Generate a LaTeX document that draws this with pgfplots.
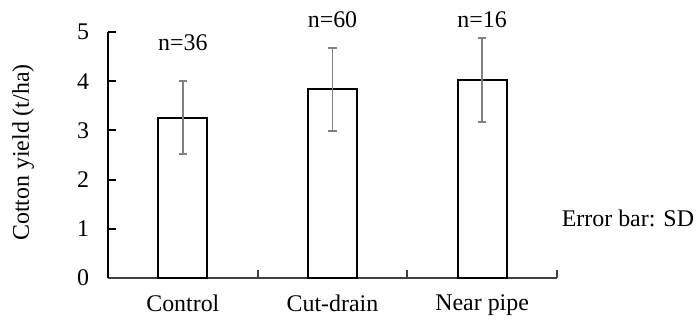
\documentclass[border=0pt]{standalone}
\usepackage{fontspec}
\setmainfont{Liberation Serif}
\usepackage{pgfplots}
\pgfplotsset{compat=1.18}
\begin{document}
\begin{tikzpicture}[font=\fontsize{12}{14}\selectfont]
\path[use as bounding box] (0,0) rectangle (350bp,160bp);
\begin{axis}[
  at={(54bp,21bp)}, anchor=south west,
  width=224.5bp, height=123bp, scale only axis,
  xmin=-0.5, xmax=2.5, ymin=0, ymax=5,
  axis x line*=bottom, axis y line*=left,
  axis line style={-, line width=1bp},
  x axis line style={black!75},
  tick align=inside,
  ytick={0,1,2,3,4,5},
  major tick length=4bp,
  tick style={black, line width=1bp},
  xtick={-0.5,0.5,1.5,2.5},
  xticklabels={},
  x tick style={black!75},
  extra x ticks={0,1,2},
  extra x tick labels={Control,Cut-drain,Near pipe},
  extra x tick style={major tick length=0pt},
  xticklabel style={yshift=-5bp},
  yticklabel style={xshift=-6bp},
  /pgf/number format/assume math mode=true,
  ylabel={Cotton yield (t/ha)},
  ylabel style={at={(axis description cs:-0.189,0.51)}, rotate=0, anchor=center},
  clip=false,
]
\addplot[ybar, bar width=0.327, fill=white, draw=black, line width=1bp,
  error bars/.cd, y dir=both, y explicit,
  error bar style={gray, line width=0.9bp},
  error mark options={rotate=90, gray, mark size=2bp, line width=0.9bp}]
  coordinates {(0,3.26) +- (0,0.74) (1,3.835) +- (0,0.845) (2,4.025) +- (0,0.855)};
\node[anchor=base] at (axis cs:0,4.62) {n=36};
\node[anchor=base] at (axis cs:1,5.10) {n=60};
\node[anchor=base] at (axis cs:2,5.10) {n=16};
\node[anchor=base west, inner sep=0pt] at (axis cs:2.53,1.04) {Error bar: SD};
\end{axis}
\end{tikzpicture}
\end{document}
